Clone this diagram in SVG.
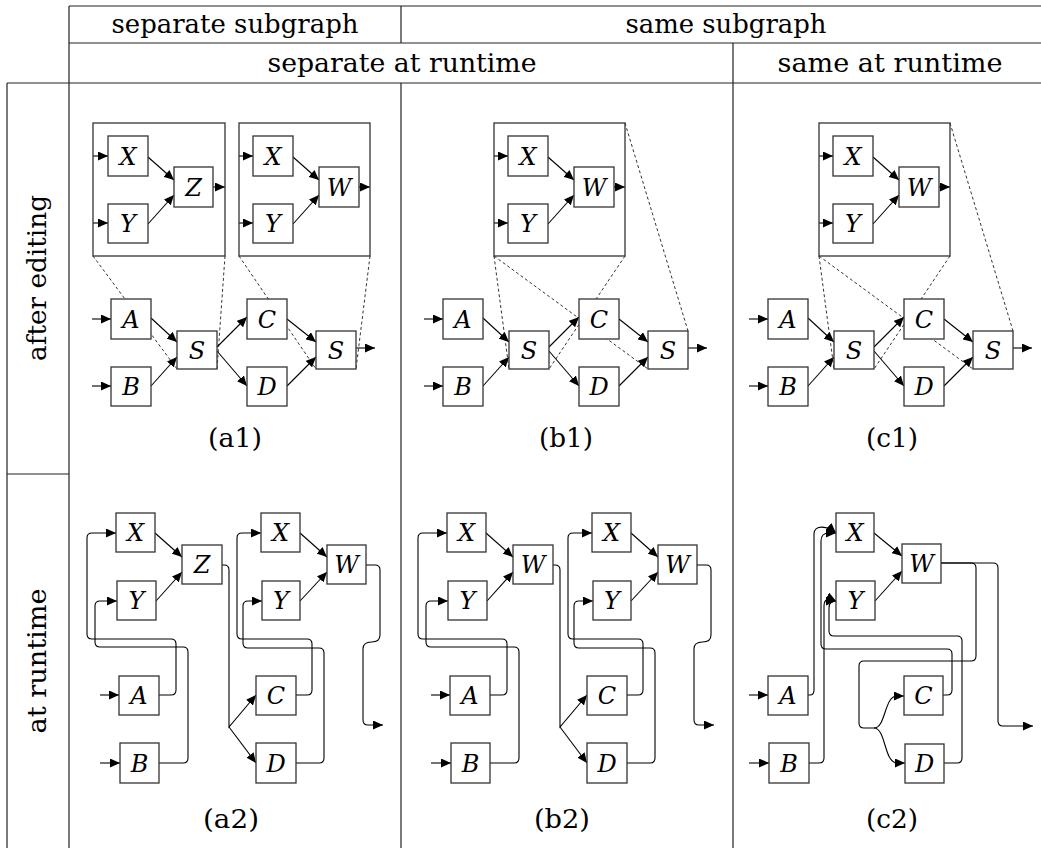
<svg xmlns="http://www.w3.org/2000/svg" width="1041" height="848" viewBox="0 0 1041 848">
<style>
.bx{fill:#fff;stroke:#333;stroke-width:1.3}
.ib{fill:none;stroke:#333;stroke-width:1.3}
.e{fill:none;stroke:#000;stroke-width:1.1;marker-end:url(#ah)}
.d{fill:none;stroke:#000;stroke-width:0.8;stroke-dasharray:3 2.5}
.t{fill:none;stroke:#222;stroke-width:1.2}
.n{font-family:"DejaVu Serif",serif;font-style:italic;font-size:24px;text-anchor:middle;fill:#000}
.h{font-family:"DejaVu Serif",serif;font-size:26px;text-anchor:middle;fill:#000}
</style>
<defs>
<marker id="ah" viewBox="0 0 10 9" refX="10" refY="4.5" markerWidth="10" markerHeight="9" markerUnits="userSpaceOnUse" orient="auto"><path d="M0,0 L10,4.5 L0,9 z" fill="#000"/></marker>
</defs>
<rect width="1041" height="848" fill="#fff"/>

<g id="table">
<path class="t" d="M69,6 H1041 M69,43 H1041 M7,83 H1041 M7,474 H69 M69,6 V848 M7,83 V848 M401,6 V43 M401,83 V848 M733,43 V848"/>
<text class="h" x="235" y="33" textLength="247" lengthAdjust="spacingAndGlyphs">separate subgraph</text>
<text class="h" x="726" y="33" textLength="201" lengthAdjust="spacingAndGlyphs">same subgraph</text>
<text class="h" x="402" y="72" textLength="269" lengthAdjust="spacingAndGlyphs">separate at runtime</text>
<text class="h" x="890" y="72" textLength="225" lengthAdjust="spacingAndGlyphs">same at runtime</text>
<text class="h" transform="translate(46,278) rotate(-90)" textLength="166" lengthAdjust="spacingAndGlyphs">after editing</text>
<text class="h" transform="translate(46,661) rotate(-90)" textLength="145" lengthAdjust="spacingAndGlyphs">at runtime</text>
<text class="h" x="235" y="447" textLength="54" lengthAdjust="spacingAndGlyphs">(a1)</text>
<text class="h" x="566" y="447" textLength="54" lengthAdjust="spacingAndGlyphs">(b1)</text>
<text class="h" x="892" y="447" textLength="52" lengthAdjust="spacingAndGlyphs">(c1)</text>
<text class="h" x="231" y="828" textLength="56" lengthAdjust="spacingAndGlyphs">(a2)</text>
<text class="h" x="562" y="828" textLength="56" lengthAdjust="spacingAndGlyphs">(b2)</text>
<text class="h" x="892" y="828" textLength="52" lengthAdjust="spacingAndGlyphs">(c2)</text>
</g>

<!-- ===== a1 ===== -->
<g id="a1">
<g id="a1-connectors">
<path class="e" d="M93,156 H108"/><path class="e" d="M93,223 H108"/>
<path class="e" d="M148,157 L174,180"/><path class="e" d="M148,224 L174,195"/>
<path class="e" d="M213,187 H225"/>
<path class="e" d="M239,156 H253"/><path class="e" d="M239,223 H253"/>
<path class="e" d="M293,157 L319,180"/><path class="e" d="M293,224 L319,195"/>
<path class="e" d="M359,187 H370"/>
<path class="e" d="M92,319 H111"/><path class="e" d="M92,386 H111"/>
<path class="e" d="M151,318 L177,342"/><path class="e" d="M151,386 L177,357"/>
<path class="e" d="M217,347 L247,317"/><path class="e" d="M217,351 L247,386"/>
<path class="e" d="M287,319 L316,342"/><path class="e" d="M287,386 L316,357"/>
<path class="e" d="M356,348 H375"/>
<path class="d" d="M93,256 L177,369 M225,256 L217,369 M239,256 L316,369 M370,256 L356,369"/>
</g>
<rect id="a1-inset1" class="ib" x="93" y="123" width="132" height="133"/>
<rect id="a1-inset2" class="ib" x="239" y="123" width="131" height="133"/>
<g id="a1-X1"><rect class="bx" x="108" y="136" width="40" height="40"/><text class="n" x="128" y="164.5">X</text></g>
<g id="a1-Y1"><rect class="bx" x="108" y="204" width="40" height="39"/><text class="n" x="128" y="232">Y</text></g>
<g id="a1-Z"><rect class="bx" x="174" y="167" width="39" height="40"/><text class="n" x="193.5" y="195.5">Z</text></g>
<g id="a1-X2"><rect class="bx" x="253" y="136" width="40" height="40"/><text class="n" x="273" y="164.5">X</text></g>
<g id="a1-Y2"><rect class="bx" x="253" y="204" width="40" height="39"/><text class="n" x="273" y="232">Y</text></g>
<g id="a1-W"><rect class="bx" x="319" y="167" width="40" height="40"/><text class="n" x="339" y="195.5">W</text></g>
<g id="a1-A"><rect class="bx" x="111" y="299" width="40" height="40"/><text class="n" x="131" y="327.5">A</text></g>
<g id="a1-B"><rect class="bx" x="111" y="367" width="40" height="39"/><text class="n" x="131" y="395">B</text></g>
<g id="a1-S1"><rect class="bx" x="177" y="331" width="40" height="38"/><text class="n" x="197" y="358.5">S</text></g>
<g id="a1-C"><rect class="bx" x="247" y="299" width="40" height="40"/><text class="n" x="267" y="327.5">C</text></g>
<g id="a1-D"><rect class="bx" x="247" y="367" width="40" height="39"/><text class="n" x="267" y="395">D</text></g>
<g id="a1-S2"><rect class="bx" x="316" y="331" width="40" height="38"/><text class="n" x="336" y="358.5">S</text></g>
</g>

<!-- ===== b1 ===== -->
<g id="b1" transform="translate(332,0)">
<g id="b1-connectors">
<path class="e" d="M162,156 H176"/><path class="e" d="M162,223 H176"/>
<path class="e" d="M216,157 L242,180"/><path class="e" d="M216,224 L242,195"/>
<path class="e" d="M282,187 H293"/>
<path class="e" d="M92,319 H111"/><path class="e" d="M92,386 H111"/>
<path class="e" d="M151,318 L177,342"/><path class="e" d="M151,386 L177,357"/>
<path class="e" d="M217,347 L247,317"/><path class="e" d="M217,351 L247,386"/>
<path class="e" d="M287,319 L316,342"/><path class="e" d="M287,386 L316,357"/>
<path class="e" d="M356,348 H375"/>
<path class="d" d="M162,256 L177,369 M293,256 L217,369 M162,256 L316,369 M293,123 L356,331"/>
</g>
<rect id="b1-inset" class="ib" x="162" y="123" width="131" height="133"/>
<g id="b1-X"><rect class="bx" x="176" y="136" width="40" height="40"/><text class="n" x="196" y="164.5">X</text></g>
<g id="b1-Y"><rect class="bx" x="176" y="204" width="40" height="39"/><text class="n" x="196" y="232">Y</text></g>
<g id="b1-W"><rect class="bx" x="242" y="167" width="40" height="40"/><text class="n" x="262" y="195.5">W</text></g>
<g id="b1-A"><rect class="bx" x="111" y="299" width="40" height="40"/><text class="n" x="131" y="327.5">A</text></g>
<g id="b1-B"><rect class="bx" x="111" y="367" width="40" height="39"/><text class="n" x="131" y="395">B</text></g>
<g id="b1-S1"><rect class="bx" x="177" y="331" width="40" height="38"/><text class="n" x="197" y="358.5">S</text></g>
<g id="b1-C"><rect class="bx" x="247" y="299" width="40" height="40"/><text class="n" x="267" y="327.5">C</text></g>
<g id="b1-D"><rect class="bx" x="247" y="367" width="40" height="39"/><text class="n" x="267" y="395">D</text></g>
<g id="b1-S2"><rect class="bx" x="316" y="331" width="40" height="38"/><text class="n" x="336" y="358.5">S</text></g>
</g>

<!-- ===== c1 ===== -->
<g id="c1" transform="translate(657,0)">
<g id="c1-connectors">
<path class="e" d="M162,156 H176"/><path class="e" d="M162,223 H176"/>
<path class="e" d="M216,157 L242,180"/><path class="e" d="M216,224 L242,195"/>
<path class="e" d="M282,187 H293"/>
<path class="e" d="M92,319 H111"/><path class="e" d="M92,386 H111"/>
<path class="e" d="M151,318 L177,342"/><path class="e" d="M151,386 L177,357"/>
<path class="e" d="M217,347 L247,317"/><path class="e" d="M217,351 L247,386"/>
<path class="e" d="M287,319 L316,342"/><path class="e" d="M287,386 L316,357"/>
<path class="e" d="M356,348 H375"/>
<path class="d" d="M162,256 L177,369 M293,256 L217,369 M162,256 L316,369 M293,123 L356,331"/>
</g>
<rect id="c1-inset" class="ib" x="162" y="123" width="131" height="133"/>
<g id="c1-X"><rect class="bx" x="176" y="136" width="40" height="40"/><text class="n" x="196" y="164.5">X</text></g>
<g id="c1-Y"><rect class="bx" x="176" y="204" width="40" height="39"/><text class="n" x="196" y="232">Y</text></g>
<g id="c1-W"><rect class="bx" x="242" y="167" width="40" height="40"/><text class="n" x="262" y="195.5">W</text></g>
<g id="c1-A"><rect class="bx" x="111" y="299" width="40" height="40"/><text class="n" x="131" y="327.5">A</text></g>
<g id="c1-B"><rect class="bx" x="111" y="367" width="40" height="39"/><text class="n" x="131" y="395">B</text></g>
<g id="c1-S1"><rect class="bx" x="177" y="331" width="40" height="38"/><text class="n" x="197" y="358.5">S</text></g>
<g id="c1-C"><rect class="bx" x="247" y="299" width="40" height="40"/><text class="n" x="267" y="327.5">C</text></g>
<g id="c1-D"><rect class="bx" x="247" y="367" width="40" height="39"/><text class="n" x="267" y="395">D</text></g>
<g id="c1-S2"><rect class="bx" x="316" y="331" width="40" height="38"/><text class="n" x="336" y="358.5">S</text></g>
</g>

<!-- ===== a2 ===== -->
<g id="a2">
<g id="a2-connectors">
<path class="e" d="M100,695 H119"/><path class="e" d="M100,763 H120"/>
<path class="e" d="M155,533 L182,557"/><path class="e" d="M156,601 L182,572"/>
<path class="e" d="M300,533 L327,557"/><path class="e" d="M300,601 L327,572"/>
<path class="e" d="M159,695 H171 Q176,695 176,690 V644 Q176,639 171,639 H92 Q87,639 87,634 V538 Q87,533 92,533 H116"/>
<path class="e" d="M159,763 H183 Q188,763 188,758 V652 Q188,647 183,647 H100 Q95,647 95,642 V606 Q95,601 100,601 H117"/>
<path class="e" d="M222,565 H224 Q229,565 229,570 V727 L256,695"/>
<path class="e" d="M229,727 L256,763"/>
<path class="e" d="M296,695 H307 Q312,695 312,690 V644 Q312,639 307,639 H242 Q237,639 237,634 V538 Q237,533 242,533 H261"/>
<path class="e" d="M296,763 H319 Q324,763 324,758 V653 Q324,648 319,648 H248 Q243,648 243,643 V606 Q243,601 248,601 H262"/>
<path class="e" d="M366,565 H375 Q380,565 380,570 V635 Q380,642 371.5,642 Q363,642 363,649 V720 Q363,725 368,725 H383"/>
</g>
<g id="a2-X1"><rect class="bx" x="116" y="513" width="39" height="39"/><text class="n" x="135.5" y="541">X</text></g>
<g id="a2-Y1"><rect class="bx" x="117" y="581" width="39" height="39"/><text class="n" x="136.5" y="609">Y</text></g>
<g id="a2-Z"><rect class="bx" x="182" y="545" width="40" height="39"/><text class="n" x="202" y="573">Z</text></g>
<g id="a2-A"><rect class="bx" x="119" y="676" width="40" height="39"/><text class="n" x="139" y="704">A</text></g>
<g id="a2-B"><rect class="bx" x="120" y="743" width="39" height="40"/><text class="n" x="139.5" y="771.5">B</text></g>
<g id="a2-X2"><rect class="bx" x="261" y="513" width="39" height="39"/><text class="n" x="280.5" y="541">X</text></g>
<g id="a2-Y2"><rect class="bx" x="262" y="581" width="38" height="39"/><text class="n" x="281" y="609">Y</text></g>
<g id="a2-W"><rect class="bx" x="327" y="545" width="39" height="39"/><text class="n" x="346.5" y="573">W</text></g>
<g id="a2-C"><rect class="bx" x="256" y="676" width="40" height="39"/><text class="n" x="276" y="704">C</text></g>
<g id="a2-D"><rect class="bx" x="256" y="743" width="40" height="40"/><text class="n" x="276" y="771.5">D</text></g>
</g>

<!-- ===== b2 ===== -->
<g id="b2" transform="translate(331,0)">
<g id="b2-connectors">
<path class="e" d="M100,695 H119"/><path class="e" d="M100,763 H120"/>
<path class="e" d="M155,533 L182,557"/><path class="e" d="M156,601 L182,572"/>
<path class="e" d="M300,533 L327,557"/><path class="e" d="M300,601 L327,572"/>
<path class="e" d="M159,695 H171 Q176,695 176,690 V644 Q176,639 171,639 H92 Q87,639 87,634 V538 Q87,533 92,533 H116"/>
<path class="e" d="M159,763 H183 Q188,763 188,758 V652 Q188,647 183,647 H100 Q95,647 95,642 V606 Q95,601 100,601 H117"/>
<path class="e" d="M222,565 H224 Q229,565 229,570 V727 L256,695"/>
<path class="e" d="M229,727 L256,763"/>
<path class="e" d="M296,695 H307 Q312,695 312,690 V644 Q312,639 307,639 H242 Q237,639 237,634 V538 Q237,533 242,533 H261"/>
<path class="e" d="M296,763 H319 Q324,763 324,758 V653 Q324,648 319,648 H248 Q243,648 243,643 V606 Q243,601 248,601 H262"/>
<path class="e" d="M366,565 H375 Q380,565 380,570 V635 Q380,642 371.5,642 Q363,642 363,649 V720 Q363,725 368,725 H383"/>
</g>
<g id="b2-X1"><rect class="bx" x="116" y="513" width="39" height="39"/><text class="n" x="135.5" y="541">X</text></g>
<g id="b2-Y1"><rect class="bx" x="117" y="581" width="39" height="39"/><text class="n" x="136.5" y="609">Y</text></g>
<g id="b2-W1"><rect class="bx" x="182" y="545" width="40" height="39"/><text class="n" x="202" y="573">W</text></g>
<g id="b2-A"><rect class="bx" x="119" y="676" width="40" height="39"/><text class="n" x="139" y="704">A</text></g>
<g id="b2-B"><rect class="bx" x="120" y="743" width="39" height="40"/><text class="n" x="139.5" y="771.5">B</text></g>
<g id="b2-X2"><rect class="bx" x="261" y="513" width="39" height="39"/><text class="n" x="280.5" y="541">X</text></g>
<g id="b2-Y2"><rect class="bx" x="262" y="581" width="38" height="39"/><text class="n" x="281" y="609">Y</text></g>
<g id="b2-W2"><rect class="bx" x="327" y="545" width="39" height="39"/><text class="n" x="346.5" y="573">W</text></g>
<g id="b2-C"><rect class="bx" x="256" y="676" width="40" height="39"/><text class="n" x="276" y="704">C</text></g>
<g id="b2-D"><rect class="bx" x="256" y="743" width="40" height="40"/><text class="n" x="276" y="771.5">D</text></g>
</g>

<!-- ===== c2 ===== -->
<g id="c2">
<g id="c2-connectors">
<path class="e" d="M749,695 H768"/><path class="e" d="M749,763 H769"/>
<path class="e" d="M874,533 L902,556"/><path class="e" d="M875,601 L902,571"/>
<path class="e" d="M808,695 H810 Q814,695 814,690 V534 C814,524 828,526 836,533"/>
<path class="e" d="M943,695 H947 Q952,695 952,690 V654 Q952,649 947,649 H826 Q821,649 821,644 V541 Q821,533 829,533 H836"/>
<path class="e" d="M809,763 H819 Q824,763 824,758 V606 C824,598 830,598 836,601"/>
<path class="e" d="M944,763 H957 Q962,763 962,758 V641 Q962,636 957,636 H834 Q829,636 829,631 V608 Q829,601 836,601"/>
<path class="e" d="M941,563 H993 Q998,563 998,568 V721 Q998,726 1003,726 H1033"/>
<path class="e" d="M941,563 H971 Q976,563 976,568 V656 Q976,661 971,661 H864 Q859,661 859,666 V723 Q859,728 864,728 H874 C886,728 884,696 897,696 H904"/>
<path class="e" d="M874,728 C886,728 884,763 897,763 H905"/>
</g>
<g id="c2-X"><rect class="bx" x="836" y="513" width="38" height="39"/><text class="n" x="855" y="541">X</text></g>
<g id="c2-Y"><rect class="bx" x="836" y="581" width="39" height="39"/><text class="n" x="855.5" y="609">Y</text></g>
<g id="c2-W"><rect class="bx" x="902" y="544" width="39" height="39"/><text class="n" x="921.5" y="572">W</text></g>
<g id="c2-A"><rect class="bx" x="768" y="676" width="40" height="39"/><text class="n" x="788" y="704">A</text></g>
<g id="c2-B"><rect class="bx" x="769" y="743" width="40" height="40"/><text class="n" x="789" y="771.5">B</text></g>
<g id="c2-C"><rect class="bx" x="904" y="676" width="39" height="39"/><text class="n" x="923.5" y="704">C</text></g>
<g id="c2-D"><rect class="bx" x="905" y="744" width="39" height="39"/><text class="n" x="924.5" y="772">D</text></g>
</g>
</svg>
